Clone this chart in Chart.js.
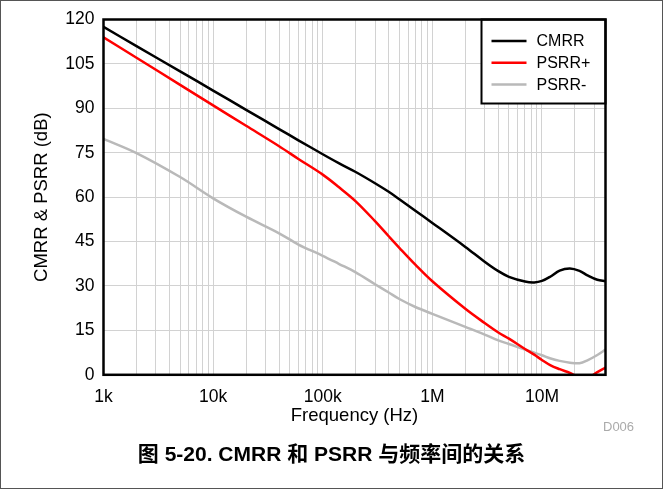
<!DOCTYPE html>
<html>
<head>
<meta charset="utf-8">
<title>CMRR & PSRR vs Frequency</title>
<script src="https://cdn.jsdelivr.net/npm/chart.js@4.4.1/dist/chart.umd.min.js"></script>
<style>
  html, body { margin: 0; padding: 0; background: #fff; }
  #wrap { position: relative; width: 663px; height: 489px; }
  #frame { position: absolute; left: 0; top: 0; width: 663px; height: 489px; box-sizing: border-box; border: 1px solid #555; pointer-events: none; }
  #caption { position: absolute; left: 0; top: 442px; width: 663px; line-height: 24px; text-align: center; font-weight: bold; font-size: 21px; font-family: "Liberation Sans", "Noto Sans CJK SC", sans-serif; color: #000; }
  #code { position: absolute; left: 603px; top: 419px; font: 13px "Liberation Sans", sans-serif; color: #aaa; }
</style>
</head>
<body>
<div id="wrap">
  <canvas id="chart" width="663" height="489"></canvas>
  <div id="code">D006</div>
  <div id="caption">图 5-20. CMRR 和 PSRR 与频率间的关系</div>
  <div id="frame"></div>
</div>
<script>
// frequency points (Hz)
const freqs = [1e3, 2e3, 5e3, 1e4, 2e4, 4e4, 6e4, 1e5, 1.4e5, 2e5, 3e5, 4e5, 5e5, 7e5, 1e6, 2e6, 3e6, 4e6, 5e6, 7e6, 8.5e6, 1e7, 1.2e7, 1.45e7, 1.8e7, 2.2e7, 2.6e7, 3.2e7, 3.8e7];

// dB values at each frequency
const cmrr      = [117.5, 111.0, 102.5, 96.0, 89.5, 83.0, 79.2, 74.5, 71.5, 68.5, 64.7, 61.8, 59.3, 55.4, 51.3, 43.2, 38.2, 35.0, 33.1, 31.5, 31.2, 31.7, 33.2, 35.2, 35.9, 35.1, 33.6, 32.1, 31.6];
const psrrPlus  = [114.0, 107.1, 97.9, 91.0, 84.1, 77.2, 72.9, 67.6, 63.4, 58.6, 51.9, 46.8, 42.9, 37.2, 31.6, 22.3, 17.5, 14.3, 12.2, 8.7, 6.8, 5.0, 3.2, 1.9, 0.6, -0.8, -1.1, 0.9, 2.4];
const psrrMinus = [79.7, 74.9, 66.8, 59.6, 53.4, 47.8, 44.0, 40.2, 37.5, 34.6, 30.6, 27.8, 25.6, 22.9, 20.6, 16.2, 13.6, 11.6, 10.4, 8.5, 7.5, 6.6, 5.5, 4.7, 4.1, 3.9, 4.9, 6.7, 8.5];

const seriesNames  = ['CMRR', 'PSRR+', 'PSRR-'];
const seriesColors = ['#000000', '#ff0000', '#b9b9b9'];

// axis ranges and labels
const xMin = 1e3, xMax = 3.8e7;
const decadeValues = [1e3, 1e4, 1e5, 1e6, 1e7];
const decadeLabels = ['1k', '10k', '100k', '1M', '10M'];
const yMin = 0, yMax = 120, yStep = 15;

const FONT = '"Liberation Sans", Arial, sans-serif';
const GRID = '#d2d2d2';

// minor + major gridlines: 1..9 x each decade
function logTicks() {
  const out = [];
  decadeValues.forEach(d => {
    for (let m = 1; m <= 9; m++) {
      const v = m * d;
      if (v >= xMin && v <= xMax) out.push({ value: v });
    }
  });
  return out;
}

function toPoints(ys) {
  return freqs.map((f, i) => ({ x: f, y: ys[i] }));
}

// legend box in the top-right corner + heavy frame around the plot
const frameAndLegend = {
  id: 'frameAndLegend',
  afterDraw(chart) {
    const { ctx, chartArea: a } = chart;
    const x0 = a.right - 124, y0 = a.top, h = 84;
    ctx.save();
    ctx.fillStyle = '#fff';
    ctx.fillRect(x0, y0, a.right - x0, h);
    ctx.strokeStyle = '#000';
    ctx.lineWidth = 2;
    ctx.strokeRect(x0, y0, a.right - x0, h);

    ctx.font = '16px ' + FONT;
    ctx.textBaseline = 'middle';
    ctx.textAlign = 'left';
    chart.data.datasets.forEach((ds, i) => {
      const y = y0 + 21.5 + i * 21.7;
      ctx.strokeStyle = ds.borderColor;
      ctx.lineWidth = 2.5;
      ctx.beginPath();
      ctx.moveTo(x0 + 10, y);
      ctx.lineTo(x0 + 45, y);
      ctx.stroke();
      ctx.fillStyle = '#000';
      ctx.fillText(ds.label, x0 + 55, y + 1);
    });

    ctx.strokeStyle = '#000';
    ctx.lineWidth = 2.5;
    ctx.strokeRect(a.left, a.top, a.right - a.left, a.bottom - a.top);
    ctx.restore();
  }
};

const datasets = [cmrr, psrrPlus, psrrMinus].map((ys, i) => ({
  label: seriesNames[i],
  data: toPoints(ys),
  borderColor: seriesColors[i],
  backgroundColor: seriesColors[i],
  borderWidth: 2.5,
  pointRadius: 0,
  tension: 0.35,
  clip: 0
}));

new Chart(document.getElementById('chart'), {
  type: 'line',
  data: { datasets: datasets },
  plugins: [frameAndLegend],
  options: {
    responsive: false,
    animation: false,
    layout: { padding: { left: 30, top: 19, right: 57.5, bottom: 61.9 } },
    plugins: { legend: { display: false }, tooltip: { enabled: false } },
    scales: {
      x: {
        type: 'logarithmic',
        min: xMin,
        max: xMax,
        afterBuildTicks: s => { s.ticks = logTicks(); },
        afterFit: s => { s.height = 52.3; },
        grid: { color: GRID, lineWidth: 1, drawTicks: false },
        border: { display: false },
        ticks: {
          autoSkip: false,
          maxRotation: 0,
          padding: 12,
          color: '#000',
          font: { family: FONT, size: 17.5 },
          callback: v => {
            const k = decadeValues.findIndex(d => Math.abs(d - v) < d * 1e-6);
            return k >= 0 ? decadeLabels[k] : '';
          }
        },
        title: { display: true, text: 'Frequency (Hz)', color: '#000', padding: 0, font: { family: FONT, size: 18.5 } }
      },
      y: {
        min: yMin,
        max: yMax,
        afterFit: s => { s.width = 73.5; },
        grid: { color: GRID, lineWidth: 1, drawTicks: false },
        border: { display: false },
        ticks: { stepSize: yStep, padding: 9, color: '#000', font: { family: FONT, size: 17.5 } },
        title: { display: true, text: 'CMRR & PSRR (dB)', color: '#000', padding: { top: 1, bottom: 0 }, font: { family: FONT, size: 18.5 } }
      }
    }
  }
});
</script>
</body>
</html>
